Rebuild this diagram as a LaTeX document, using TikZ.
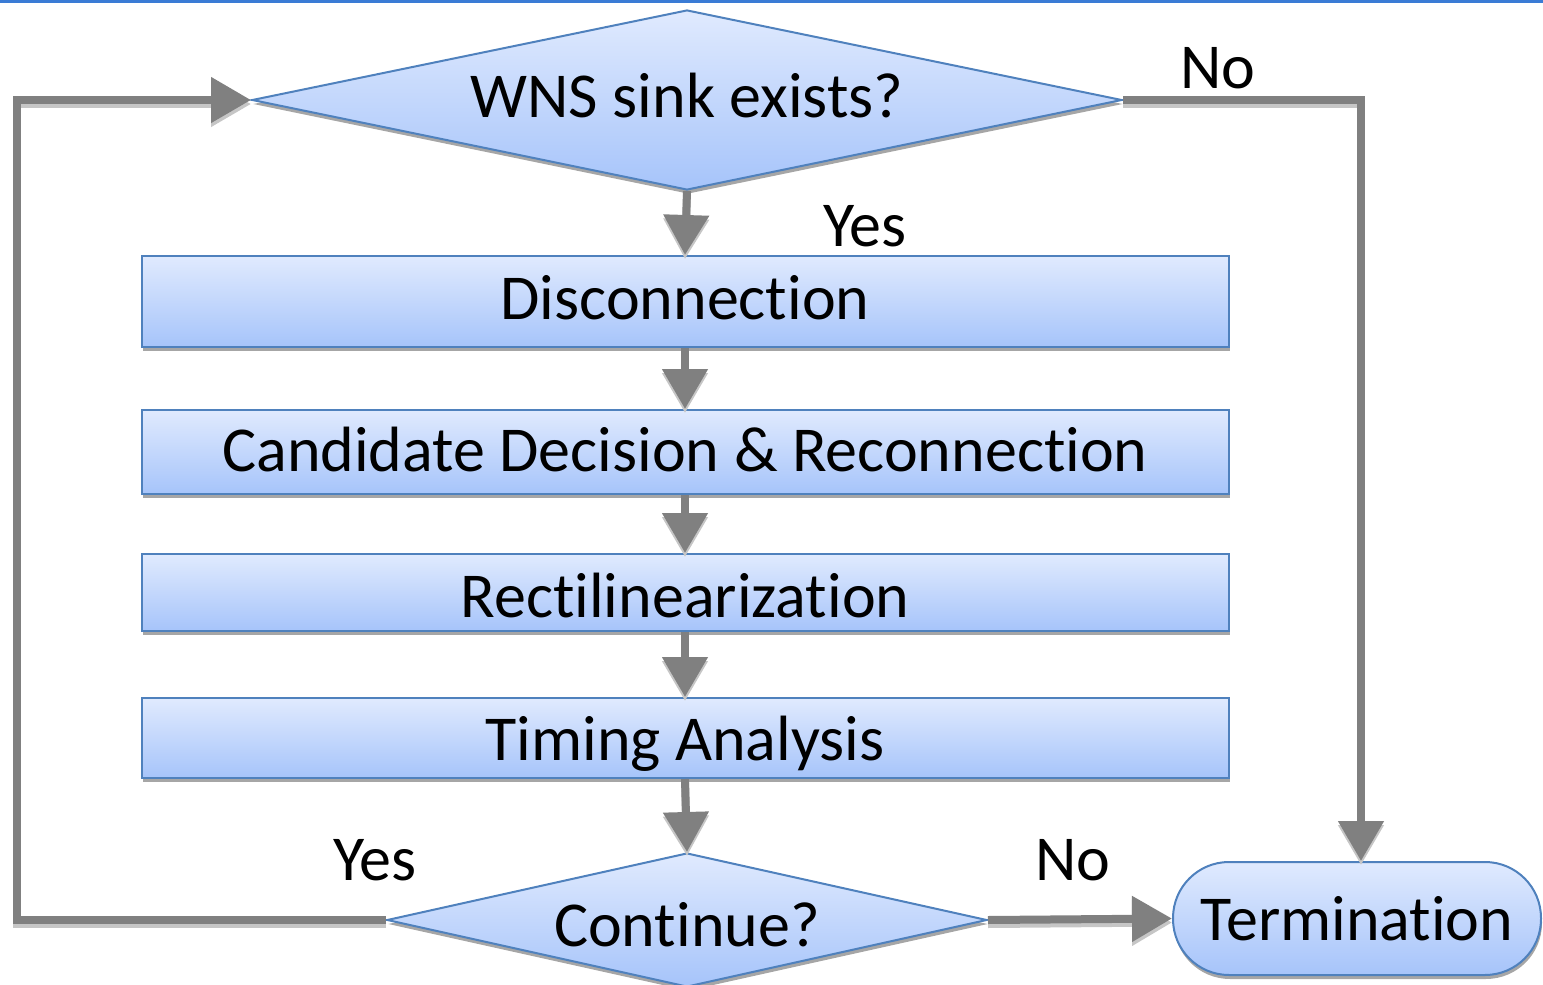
\documentclass[tikz,border=0pt]{standalone}
\usepackage{fontspec}
\setmainfont{Carlito}[Ligatures=NoCommon]
\usetikzlibrary{arrows.meta,shapes.geometric,shadows}
\definecolor{boxtop}{HTML}{E0EAFE}
\definecolor{boxbot}{HTML}{A6C4FA}
\definecolor{boxline}{HTML}{4F81BD}
\definecolor{flowgray}{HTML}{808080}
\definecolor{rulebl}{HTML}{3A7BD5}
% raise a text without changing the size of its box
\newcommand\txtlift[2]{\raisebox{#1}[\height][\depth]{#2}}
\tikzset{
  flowshade/.style={top color=boxtop, bottom color=boxbot, draw=boxline, line width=2pt,
    drop shadow={shadow xshift=1pt, shadow yshift=-4pt, fill=gray!70, opacity=1}},
  stepbox/.style={flowshade, rectangle, minimum width=1087pt, inner sep=0pt},
  decide/.style={flowshade, diamond, inner sep=0pt},
  endbox/.style={flowshade, rectangle, rounded corners=56pt, minimum width=368pt,
    minimum height=113pt, inner sep=0pt},
  flow/.style={draw=flowgray, line width=8pt, -{Triangle[length=40pt,width=44pt]},
    preaction={draw=gray!45, line width=8pt, transform canvas={yshift=-4pt}}},
  lbl/.style={inner sep=0pt}
}
\begin{document}
\begin{tikzpicture}[x=1pt, y=-1pt, font=\fontsize{64}{72}\selectfont]
\useasboundingbox (0,0) rectangle (1543,985);
\fill[rulebl] (0,0) rectangle (1543,3);

% decision and process nodes
\node[decide, minimum width=870pt, minimum height=180pt, aspect=4.83] (wns) at (687,100) {\txtlift{4pt}{WNS sink exists?}};
\node[stepbox, minimum height=91pt] (disc) at (685,301.5) {\txtlift{4pt}{Disconnection}};
\node[stepbox, minimum height=84pt] (cand) at (685,452) {\txtlift{2pt}{Candidate Decision \& Reconnection}};
\node[stepbox, minimum height=77pt] (rect) at (685,592.5) {\txtlift{-3pt}{Rectilinearization}};
\node[stepbox, minimum height=80pt] (tim) at (685,738) {\txtlift{-6pt}{Timing Analysis}};
\node[decide, minimum width=600pt, minimum height=134pt, aspect=4.48] (cont) at (687,920) {\txtlift{-5pt}{Continue?}};
\node[endbox] (term) at (1357,918.5) {Termination};

% corner points of the loops
\coordinate (lt) at (17,100);
\coordinate (lb) at (17,920);
\coordinate (rt) at (1361,100);

% main chain
\draw[flow] (wns.south) -- (disc.north);
\draw[flow] (disc.south) -- (cand.north);
\draw[flow] (cand.south) -- (rect.north);
\draw[flow] (rect.south) -- (tim.north);
\draw[flow] (tim.south) -- (cont.north);

% loop back and exits
\draw[flow] (cont.west) -- (lb) -- (lt) -- (wns.west);
\draw[flow] (wns.east) -- (rt) -- (rt |- term.north);
\draw[flow] (cont.east) -- (term.west);

% branch labels
\node[lbl] (nowns) at (1218,68) {No};
\node[lbl] (yeswns) at (865,226) {Yes};
\node[lbl] (yescont) at (375,860) {Yes};
\node[lbl] (nocont) at (1073,860) {No};
\end{tikzpicture}
\end{document}
